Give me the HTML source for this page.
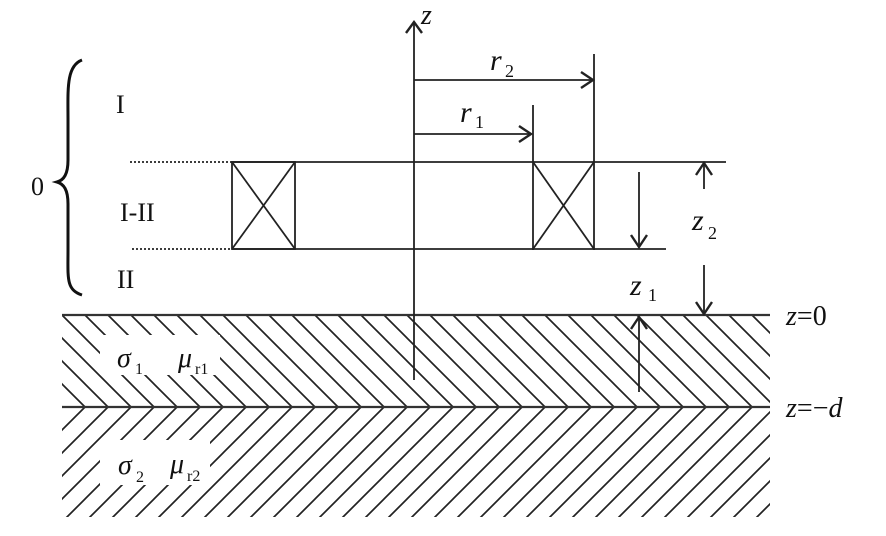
<!DOCTYPE html>
<html><head><meta charset="utf-8"><style>
html,body{margin:0;padding:0;background:#fff;}
svg{display:block;}
text{font-family:"Liberation Serif",serif;fill:#111;}
</style></head><body>
<svg width="886" height="536" viewBox="0 0 886 536" xmlns="http://www.w3.org/2000/svg">
<defs>
<pattern id="h1" patternUnits="userSpaceOnUse" width="23" height="23" x="62" y="315">
<path d="M0,0 L23,23 M-2,21 L2,25 M21,-2 L25,2" stroke="#222" stroke-width="1.7"/>
</pattern>
<pattern id="h2" patternUnits="userSpaceOnUse" width="23" height="23" x="62" y="407">
<path d="M0,23 L23,0 M-2,2 L2,-2 M21,25 L25,21" stroke="#222" stroke-width="1.7"/>
</pattern>
</defs>
<rect x="62" y="316" width="708" height="91" fill="url(#h1)"/>
<rect x="62" y="408" width="708" height="109" fill="url(#h2)"/>
<rect x="100" y="335" width="120" height="40" fill="#fff"/>
<rect x="100" y="440" width="110" height="45" fill="#fff"/>
<g stroke="#333" stroke-width="2.2" fill="none">
<line x1="62" y1="315" x2="770" y2="315"/>
<line x1="62" y1="407" x2="770" y2="407"/>
</g>
<g stroke="#222" stroke-width="1.8" fill="none">
<line x1="414" y1="22" x2="414" y2="380"/>
<polyline points="406,33 414,22 422,33" stroke-width="2.4"/>
<line x1="414" y1="80" x2="593" y2="80"/>
<polyline points="581,72 593,80 581,88" stroke-width="2.4"/>
<line x1="594" y1="54" x2="594" y2="250"/>
<line x1="414" y1="134" x2="531" y2="134"/>
<polyline points="519,126 531,134 519,142" stroke-width="2.4"/>
<line x1="533" y1="105" x2="533" y2="250"/>
<line x1="232" y1="162" x2="726" y2="162"/>
<line x1="232" y1="249" x2="666" y2="249"/>
<line x1="130" y1="162" x2="232" y2="162" stroke-dasharray="2,2"/>
<line x1="132" y1="249" x2="232" y2="249" stroke-dasharray="2,2"/>
<rect x="232" y="162" width="63" height="87"/>
<line x1="232" y1="162" x2="295" y2="249"/><line x1="295" y1="162" x2="232" y2="249"/>
<line x1="533" y1="162" x2="594" y2="249"/><line x1="594" y1="162" x2="533" y2="249"/>
<line x1="639" y1="172" x2="639" y2="247"/>
<polyline points="631,235 639,247 647,235" stroke-width="2.4"/>
<line x1="704" y1="189" x2="704" y2="163"/>
<polyline points="696,175 704,163 712,175" stroke-width="2.4"/>
<line x1="704" y1="265" x2="704" y2="314"/>
<polyline points="696,302 704,314 712,302" stroke-width="2.4"/>
<line x1="639" y1="392" x2="639" y2="317"/>
<polyline points="631,329 639,317 647,329" stroke-width="2.4"/>
</g>
<path d="M82,60 C66,66 68,90 68,120 L68,160 C68,174 64,180 57,182 C64,184 68,190 68,204 L68,250 C68,278 66,290 82,295" stroke="#111" stroke-width="3" fill="none"/>
<text x="31" y="195" font-size="26">0</text>
<text x="116" y="113" font-size="26">I</text>
<text x="120" y="221" font-size="26">I-II</text>
<text x="117" y="288" font-size="26">II</text>
<text x="421" y="24" font-size="28" font-style="italic">z</text>
<text x="490" y="70" font-size="30" font-style="italic">r</text><text x="505" y="77" font-size="18">2</text>
<text x="460" y="122" font-size="30" font-style="italic">r</text><text x="475" y="128" font-size="18">1</text>
<text x="692" y="230" font-size="30" font-style="italic">z</text><text x="708" y="239" font-size="18">2</text>
<text x="630" y="295" font-size="30" font-style="italic">z</text><text x="648" y="301" font-size="18">1</text>
<text x="786" y="325" font-size="28"><tspan font-style="italic">z</tspan>=0</text>
<text x="786" y="417" font-size="28"><tspan font-style="italic">z</tspan>=−<tspan font-style="italic">d</tspan></text>
<text x="117" y="367" font-size="28" font-style="italic">σ</text><text x="135" y="374" font-size="16">1</text>
<text x="178" y="367" font-size="28" font-style="italic">μ</text><text x="195" y="374" font-size="16">r1</text>
<text x="118" y="474" font-size="28" font-style="italic">σ</text><text x="136" y="482" font-size="16">2</text>
<text x="170" y="473" font-size="28" font-style="italic">μ</text><text x="187" y="481" font-size="16">r2</text>
</svg>
</body></html>
